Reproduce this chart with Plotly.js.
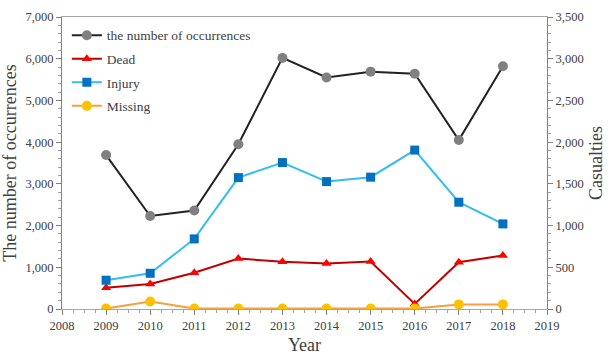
<!DOCTYPE html>
<html>
<head>
<meta charset="utf-8">
<script src="https://cdn.plot.ly/plotly-3.0.1.min.js"></script>
<style>html,body{margin:0;padding:0;background:#fff;}#chart{width:611px;height:355px;}</style>
</head>
<body>
<div id="chart"></div>
<script>
const years = [2009, 2010, 2011, 2012, 2013, 2014, 2015, 2016, 2017, 2018];
const occurrences = [3690, 2230, 2360, 3950, 6020, 5550, 5690, 5640, 4050, 5820];
const dead = [255, 300, 435, 605, 565, 545, 568, 60, 560, 640];
const injury = [345, 428, 840, 1575, 1755, 1527, 1580, 1905, 1280, 1020];
const missing = [5, 90, 5, 5, 5, 5, 5, 5, 55, 55];

const serif = "Liberation Serif, Times New Roman, serif";
const traces = [
  {x: years, y: occurrences, name: "the number of occurrences", yaxis: "y", mode: "lines+markers", legendgroup: "a",
   line: {color: "#222222", width: 2}, marker: {color: "#808080", size: 10, symbol: "circle"}},
  {x: years, y: dead, name: "Dead", yaxis: "y2", mode: "lines+markers", legendgroup: "b",
   line: {color: "#c00000", width: 2}, marker: {color: "#ff0000", size: 9, symbol: "triangle-up"}},
  {x: years, y: injury, name: "Injury", yaxis: "y2", mode: "lines+markers", legendgroup: "c",
   line: {color: "#33bdf0", width: 2}, marker: {color: "#0070c0", size: 9, symbol: "square"}},
  {x: years, y: missing, name: "Missing", yaxis: "y2", mode: "lines+markers", legendgroup: "d",
   line: {color: "#f5a040", width: 2}, marker: {color: "#ffc000", size: 10, symbol: "circle"}}
];
const tickFont = {family: serif, size: 12.5, color: "#404040"};
const titleFont = {family: serif, size: 18, color: "#404040"};
const layout = {
  width: 611, height: 355,
  margin: {l: 62, r: 64, t: 17, b: 46},
  paper_bgcolor: "#ffffff", plot_bgcolor: "#ffffff",
  showlegend: true,
  legend: {x: 0.01, y: 0.99, xanchor: "left", yanchor: "top", bgcolor: "rgba(0,0,0,0)",
           font: {family: serif, size: 13.5, color: "#404040"}, tracegroupgap: 3, itemwidth: 30},
  xaxis: {range: [2008, 2019], dtick: 1, tick0: 2008, showgrid: false, zeroline: false,
          showline: true, linecolor: "#a6a6a6", linewidth: 1, mirror: true,
          ticks: "outside", ticklen: 5, tickcolor: "#808080",
          minor: {dtick: 0.25, ticklen: 3, tickcolor: "#a0a0a0", ticks: "outside"},
          tickfont: tickFont,
          title: {text: "Year", font: titleFont, standoff: 6}},
  yaxis: {range: [0, 7000], dtick: 1000, tickformat: ",", showgrid: false, zeroline: false,
          showline: true, linecolor: "#808080", linewidth: 1,
          ticks: "outside", ticklen: 5, tickcolor: "#808080",
          minor: {dtick: 200, ticklen: 3, tickcolor: "#a0a0a0", ticks: "outside"},
          tickfont: tickFont,
          title: {text: "The number of occurrences", font: titleFont, standoff: 4}},
  yaxis2: {range: [0, 3500], dtick: 500, tickformat: ",", overlaying: "y", side: "right",
           showgrid: false, zeroline: false, showline: true, linecolor: "#808080", linewidth: 1,
           ticks: "outside", ticklen: 5, tickcolor: "#808080",
           minor: {dtick: 100, ticklen: 3, tickcolor: "#a0a0a0", ticks: "outside"},
           tickfont: tickFont,
           title: {text: "Casualties", font: titleFont, standoff: 6}}
};
Plotly.newPlot("chart", traces, layout, {displayModeBar: false, staticPlot: true});
</script>
</body>
</html>
